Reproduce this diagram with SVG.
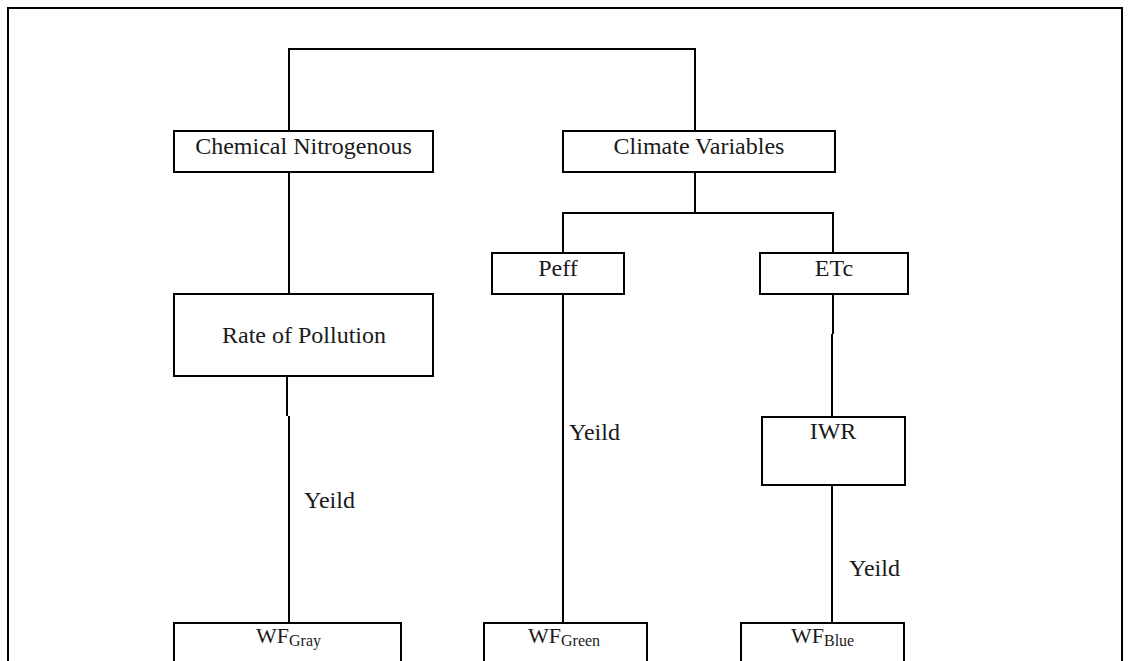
<svg xmlns="http://www.w3.org/2000/svg" width="1131" height="661" viewBox="0 0 1131 661">
<style>
.box{fill:#fff;stroke:#000;stroke-width:2}
.ln{fill:none;stroke:#000;stroke-width:2}
text{fill:#1a1a1a}
.lbl{font-size:24px;text-anchor:middle}
.yl{font-size:24px}
.wf{font-size:22px}
.sub{font-size:16px}
</style>
<rect x="8" y="8" width="1114" height="700" fill="none" stroke="#000" stroke-width="2"/>
<g id="connectors">
<path class="ln" d="M289,131 V49 H695 V131"/>
<path class="ln" d="M695,172 V213"/>
<path class="ln" d="M563,253 V213 H833 V253"/>
<path class="ln" d="M289,172 V294"/>
<path class="ln" d="M287,376 V416 M289,416 V623"/>
<path class="ln" d="M563,294 V623"/>
<path class="ln" d="M833,294 V334 M832,334 V417"/>
<path class="ln" d="M832,485 V623"/>
</g>
<g id="yield-labels" font-family="'Liberation Serif', 'DejaVu Serif', serif">
<text class="yl" x="304" y="508">Yeild</text>
<text class="yl" x="569" y="440">Yeild</text>
<text class="yl" x="849" y="576">Yeild</text>
</g>
<g id="chemical" font-family="'Liberation Serif', 'DejaVu Serif', serif"><rect class="box" x="174" y="131" width="259" height="41"/><text class="lbl" x="303.5" y="154">Chemical Nitrogenous</text></g>
<g id="climate" font-family="'Liberation Serif', 'DejaVu Serif', serif"><rect class="box" x="563" y="131" width="272" height="41"/><text class="lbl" x="699" y="154">Climate Variables</text></g>
<g id="peff" font-family="'Liberation Serif', 'DejaVu Serif', serif"><rect class="box" x="492" y="253" width="132" height="41"/><text class="lbl" x="558" y="276">Peff</text></g>
<g id="etc" font-family="'Liberation Serif', 'DejaVu Serif', serif"><rect class="box" x="760" y="253" width="148" height="41"/><text class="lbl" x="834" y="276">ETc</text></g>
<g id="rate" font-family="'Liberation Serif', 'DejaVu Serif', serif"><rect class="box" x="174" y="294" width="259" height="82"/><text class="lbl" x="304" y="343">Rate of Pollution</text></g>
<g id="iwr" font-family="'Liberation Serif', 'DejaVu Serif', serif"><rect class="box" x="762" y="417" width="143" height="68"/><text class="lbl" x="833" y="439">IWR</text></g>
<g id="wfgray" font-family="'Liberation Serif', 'DejaVu Serif', serif"><rect class="box" x="174" y="623" width="227" height="60"/><text class="wf" x="256" y="643">WF<tspan class="sub" dy="3">Gray</tspan></text></g>
<g id="wfgreen" font-family="'Liberation Serif', 'DejaVu Serif', serif"><rect class="box" x="484" y="623" width="163" height="60"/><text class="wf" x="528" y="643">WF<tspan class="sub" dy="3">Green</tspan></text></g>
<g id="wfblue" font-family="'Liberation Serif', 'DejaVu Serif', serif"><rect class="box" x="741" y="623" width="163" height="60"/><text class="wf" x="791" y="643">WF<tspan class="sub" dy="3">Blue</tspan></text></g>
</svg>
